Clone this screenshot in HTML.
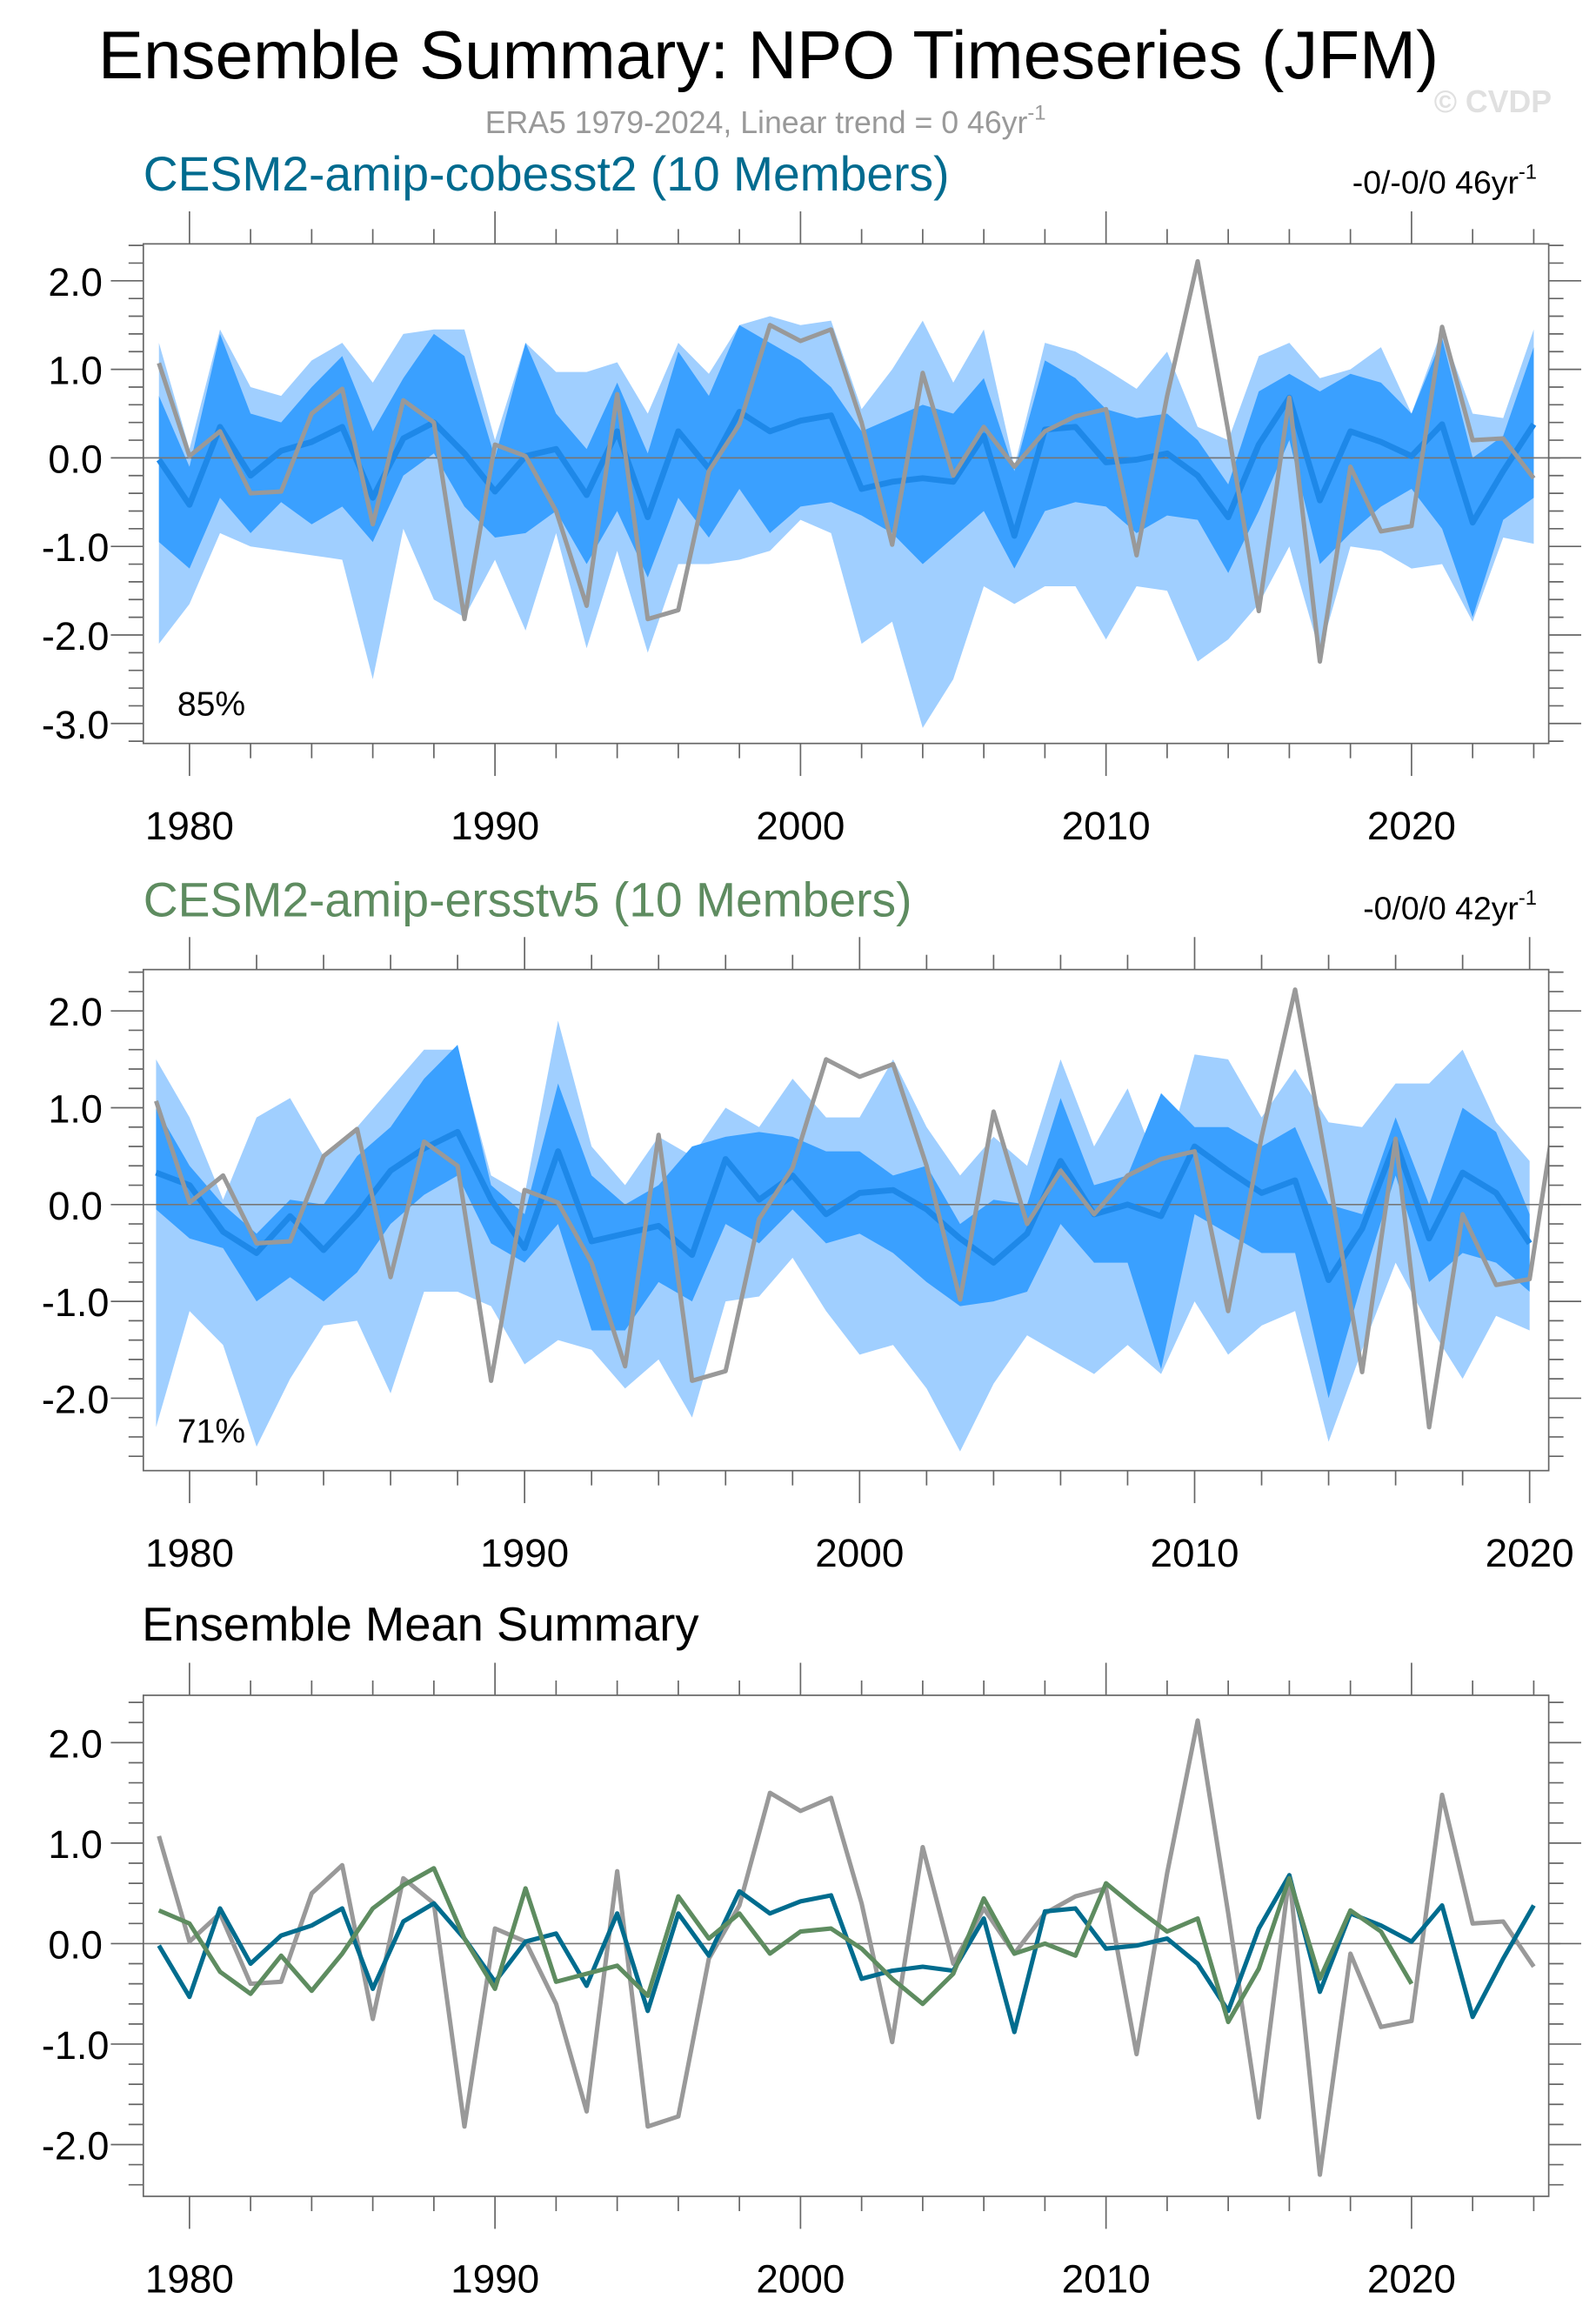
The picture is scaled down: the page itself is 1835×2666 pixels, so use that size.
<!DOCTYPE html>
<html><head><meta charset="utf-8"><style>
html,body{margin:0;padding:0;background:#fff;}
svg{display:block;font-family:"Liberation Sans",sans-serif;}
</style></head><body>
<svg id="fig" width="1835" height="2666" viewBox="0 0 1080 1569" preserveAspectRatio="none" xmlns="http://www.w3.org/2000/svg">
<text x="520" y="53" font-size="46" text-anchor="middle">Ensemble Summary: NPO Timeseries (JFM)</text>
<text x="518" y="90" font-size="21" fill="#999" text-anchor="middle">ERA5 1979-2024, Linear trend = 0 46yr<tspan dy="-9" font-size="14">-1</tspan></text>
<text x="1050" y="76" font-size="21" font-weight="bold" fill="#e0e0e0" text-anchor="end">© CVDP</text>
<text x="97" y="129" font-size="32.5" fill="#006b8f">CESM2-amip-cobesst2 (10 Members)</text>
<text x="1040" y="131" font-size="22" text-anchor="end">-0/-0/0 46yr<tspan dy="-10" font-size="14">-1</tspan></text>
<text x="97" y="620" font-size="32.5" fill="#5e8c60">CESM2-amip-ersstv5 (10 Members)</text>
<text x="1040" y="622" font-size="22" text-anchor="end">-0/0/0 42yr<tspan dy="-10" font-size="14">-1</tspan></text>
<text x="96" y="1110" font-size="32">Ensemble Mean Summary</text>
<g id="p1"></g><g id="p2"></g><g id="p3"></g>
</svg>
<script>
const era5 = [1.07,0.02,0.3,-0.4,-0.38,0.5,0.78,-0.75,0.65,0.4,-1.82,0.15,0.02,-0.6,-1.67,0.72,-1.82,-1.72,-0.15,0.38,1.5,1.32,1.45,0.4,-0.98,0.96,-0.2,0.35,-0.1,0.3,0.47,0.55,-1.1,0.7,2.22,0.3,-1.73,0.68,-2.3,-0.1,-0.83,-0.77,1.48,0.2,0.22,-0.23];
const cobMean = [-0.02,-0.53,0.35,-0.2,0.08,0.18,0.35,-0.45,0.22,0.4,0.05,-0.38,0.02,0.1,-0.42,0.3,-0.67,0.3,-0.12,0.52,0.3,0.42,0.48,-0.35,-0.27,-0.23,-0.27,0.25,-0.88,0.32,0.35,-0.05,-0.02,0.05,-0.2,-0.67,0.15,0.68,-0.48,0.3,0.18,0.02,0.38,-0.73,-0.15,0.38];
const cobMax = [1.3,0.1,1.45,0.8,0.7,1.1,1.3,0.85,1.4,1.45,1.45,0.2,1.3,0.97,0.97,1.08,0.5,1.3,0.95,1.5,1.6,1.5,1.55,0.55,1.0,1.55,0.85,1.45,-0.1,1.3,1.2,1.0,0.78,1.2,0.35,0.2,1.15,1.3,0.9,1.0,1.25,0.5,1.45,0.5,0.45,1.45];
const cobHi = [0.7,-0.1,1.4,0.5,0.4,0.8,1.15,0.3,0.9,1.4,1.15,0.0,1.3,0.5,0.1,0.85,0.05,1.2,0.7,1.5,1.3,1.1,0.8,0.3,0.45,0.6,0.5,0.9,-0.15,1.1,0.9,0.55,0.45,0.5,0.2,-0.3,0.75,0.95,0.75,0.95,0.85,0.5,1.35,0.0,0.25,1.25];
const cobLo = [-0.95,-1.25,-0.45,-0.85,-0.5,-0.75,-0.55,-0.95,-0.2,0.05,-0.55,-0.9,-0.85,-0.6,-1.2,-0.6,-1.35,-0.45,-0.9,-0.35,-0.85,-0.55,-0.5,-0.65,-0.85,-1.2,-0.9,-0.6,-1.25,-0.6,-0.5,-0.55,-0.85,-0.65,-0.7,-1.3,-0.6,0.2,-1.2,-0.85,-0.55,-0.35,-0.8,-1.8,-0.7,-0.45];
const cobMin = [-2.1,-1.65,-0.85,-1.0,-1.05,-1.1,-1.15,-2.5,-0.8,-1.6,-1.8,-1.15,-1.95,-0.85,-2.15,-1.05,-2.2,-1.2,-1.2,-1.15,-1.05,-0.7,-0.85,-2.1,-1.85,-3.05,-2.5,-1.45,-1.65,-1.45,-1.45,-2.05,-1.45,-1.5,-2.3,-2.05,-1.65,-1.0,-2.2,-1.0,-1.05,-1.25,-1.2,-1.85,-0.9,-0.97];
const ersMean = [0.33,0.2,-0.28,-0.5,-0.12,-0.47,-0.1,0.35,0.58,0.75,0.05,-0.45,0.55,-0.38,-0.3,-0.22,-0.52,0.47,0.05,0.3,-0.1,0.12,0.15,-0.05,-0.35,-0.6,-0.3,0.45,-0.1,0.0,-0.12,0.6,0.35,0.12,0.25,-0.78,-0.25,0.65,-0.35,0.33,0.12,-0.4];
const ersMax = [1.5,0.9,0.05,0.9,1.1,0.5,0.8,1.2,1.6,1.6,0.3,0.1,1.9,0.6,0.2,0.7,0.5,1.0,0.8,1.3,0.9,0.9,1.5,0.8,0.3,0.7,0.4,1.5,0.6,1.2,0.3,1.55,1.5,0.9,1.4,0.85,0.8,1.25,1.25,1.6,0.85,0.45];
const ersHi = [1.0,0.4,0.0,-0.3,0.05,0.0,0.5,0.8,1.3,1.65,0.2,-0.1,1.25,0.3,0.0,0.2,0.6,0.7,0.75,0.7,0.55,0.55,0.3,0.4,-0.2,0.05,0.0,1.1,0.2,0.3,1.15,0.8,0.8,0.6,0.8,0.0,-0.1,0.9,0.0,1.0,0.75,-0.1];
const ersLo = [-0.05,-0.35,-0.45,-1.0,-0.75,-1.0,-0.7,-0.2,0.1,0.3,-0.4,-0.6,-0.2,-1.3,-1.3,-0.8,-1.0,-0.2,-0.4,-0.05,-0.4,-0.3,-0.5,-0.8,-1.05,-1.0,-0.9,-0.2,-0.6,-0.6,-1.7,-0.1,-0.3,-0.5,-0.5,-2.0,-0.8,0.3,-0.8,-0.5,-0.6,-0.9];
const ersMin = [-2.3,-1.1,-1.45,-2.5,-1.8,-1.25,-1.2,-1.95,-0.9,-0.9,-1.05,-1.65,-1.4,-1.5,-1.9,-1.6,-2.2,-1.0,-0.95,-0.55,-1.1,-1.55,-1.45,-1.9,-2.55,-1.85,-1.35,-1.55,-1.75,-1.45,-1.75,-1.0,-1.55,-1.25,-1.1,-2.45,-1.5,-0.6,-1.25,-1.8,-1.15,-1.3];
const yTickLabels = ["-3.0","-2.0","-1.0","0.0","1.0","2.0"];
const xTickLabels = ["1980","1990","2000","2010","2020"];

const NS="http://www.w3.org/2000/svg";
function mk(parent,tag,attrs){const e=document.createElementNS(NS,tag);for(const k in attrs)e.setAttribute(k,attrs[k]);parent.appendChild(e);return e;}

function panel(gid,cfg){
  const g=document.getElementById(gid);
  const L=97,R=1048,T=cfg.top,B=cfg.bot;
  const x=yr=>L+(yr-cfg.x0)/(cfg.x1-cfg.x0)*(R-L);
  const y=v=>T+(cfg.ymax-v)/(cfg.ymax-cfg.ymin)*(B-T);
  const clipId=gid+"clip";
  const cp=mk(g,"clipPath",{id:clipId});mk(cp,"rect",{x:L,y:T,width:R-L,height:B-T});
  const area=(up,lo,fill,name)=>{
    let d="M";up.forEach((v,i)=>d+=x(1979+i)+","+y(v)+" L");
    for(let i=lo.length-1;i>=0;i--)d+=x(1979+i)+","+y(lo[i])+(i?" L":"");
    const p=mk(g,"path",{d:d+"Z",fill:fill,"clip-path":"url(#"+clipId+")"});
    
    
  };
  const line=(vals,col,w,name)=>{
    const p=mk(g,"polyline",{points:vals.map((v,i)=>x(1979+i)+","+y(v)).join(" "),fill:"none",stroke:col,"stroke-width":w,"stroke-linejoin":"round","clip-path":"url(#"+clipId+")"});
    
    
  };
  if(cfg.bands){area(cfg.bands[0],cfg.bands[3],"#a0cfff","range-band");area(cfg.bands[1],cfg.bands[2],"#3aa0ff","inner-band");}
  const z=mk(g,"line",{x1:L,x2:R+8,y1:y(0),y2:y(0),stroke:"#777","stroke-width":1});
  
  
  cfg.lines.forEach(l=>line(l[0],l[1],l[2],l[3]));
  const fr=mk(g,"rect",{x:L,y:T,width:R-L,height:B-T,fill:"none",stroke:"#666","stroke-width":1});
  
  
  for(let k=Math.ceil(cfg.ymin*5);k<=Math.floor(cfg.ymax*5);k++){
    const v=k/5,maj=k%5===0,len=maj?22:10;
    mk(g,"line",{x1:L-len,x2:L,y1:y(v),y2:y(v),stroke:"#666","stroke-width":1});
    mk(g,"line",{x1:R,x2:R+len,y1:y(v),y2:y(v),stroke:"#666","stroke-width":1});
  }
  yTickLabels.forEach(s=>{const v=parseFloat(s);if(v<cfg.ymin||v>cfg.ymax)return;
    const t=mk(g,"text",{x:51,y:y(v)+10,"font-size":26.5,"text-anchor":"middle"});t.textContent=s;
    
    });
  for(let yr=1980;yr<=cfg.x1;yr+=2){
    const maj=yr%10===0,len=maj?22:10;
    mk(g,"line",{x1:x(yr),x2:x(yr),y1:T-len,y2:T,stroke:"#666","stroke-width":1});
    mk(g,"line",{x1:x(yr),x2:x(yr),y1:B,y2:B+len,stroke:"#666","stroke-width":1});
  }
  xTickLabels.forEach(s=>{const yr=+s;if(yr>cfg.x1+0.6)return;
    const t=mk(g,"text",{x:x(yr),y:B+65,"font-size":27,"text-anchor":"middle"});t.textContent=s;
    
    });
  if(cfg.pct){const t=mk(g,"text",{x:120,y:B-19,"font-size":23});t.textContent=cfg.pct;
    
    }
}
panel("p1",{top:165,bot:503,ymin:-3.225,ymax:2.417,x0:1978.49,x1:2024.49,pct:"85%",
  bands:[cobMax,cobHi,cobLo,cobMin],
  lines:[[cobMean,"#1e88e8",4,"ensemble-mean-line"],[era5,"#999",3,"era5-line"]]});
panel("p2",{top:656,bot:995,ymin:-2.748,ymax:2.427,x0:1978.62,x1:2020.57,pct:"71%",
  bands:[ersMax,ersHi,ersLo,ersMin],
  lines:[[ersMean,"#1e88e8",4,"ensemble-mean-line"],[era5,"#999",3,"era5-line"]]});
panel("p3",{top:1147,bot:1486,ymin:-2.515,ymax:2.471,x0:1978.49,x1:2024.49,
  lines:[[era5,"#999",3,"era5-line"],[cobMean,"#006c8e",3,"cobesst2-mean-line"],[ersMean,"#5e8c60",3,"ersstv5-mean-line"]]});
</script>
</body></html>
